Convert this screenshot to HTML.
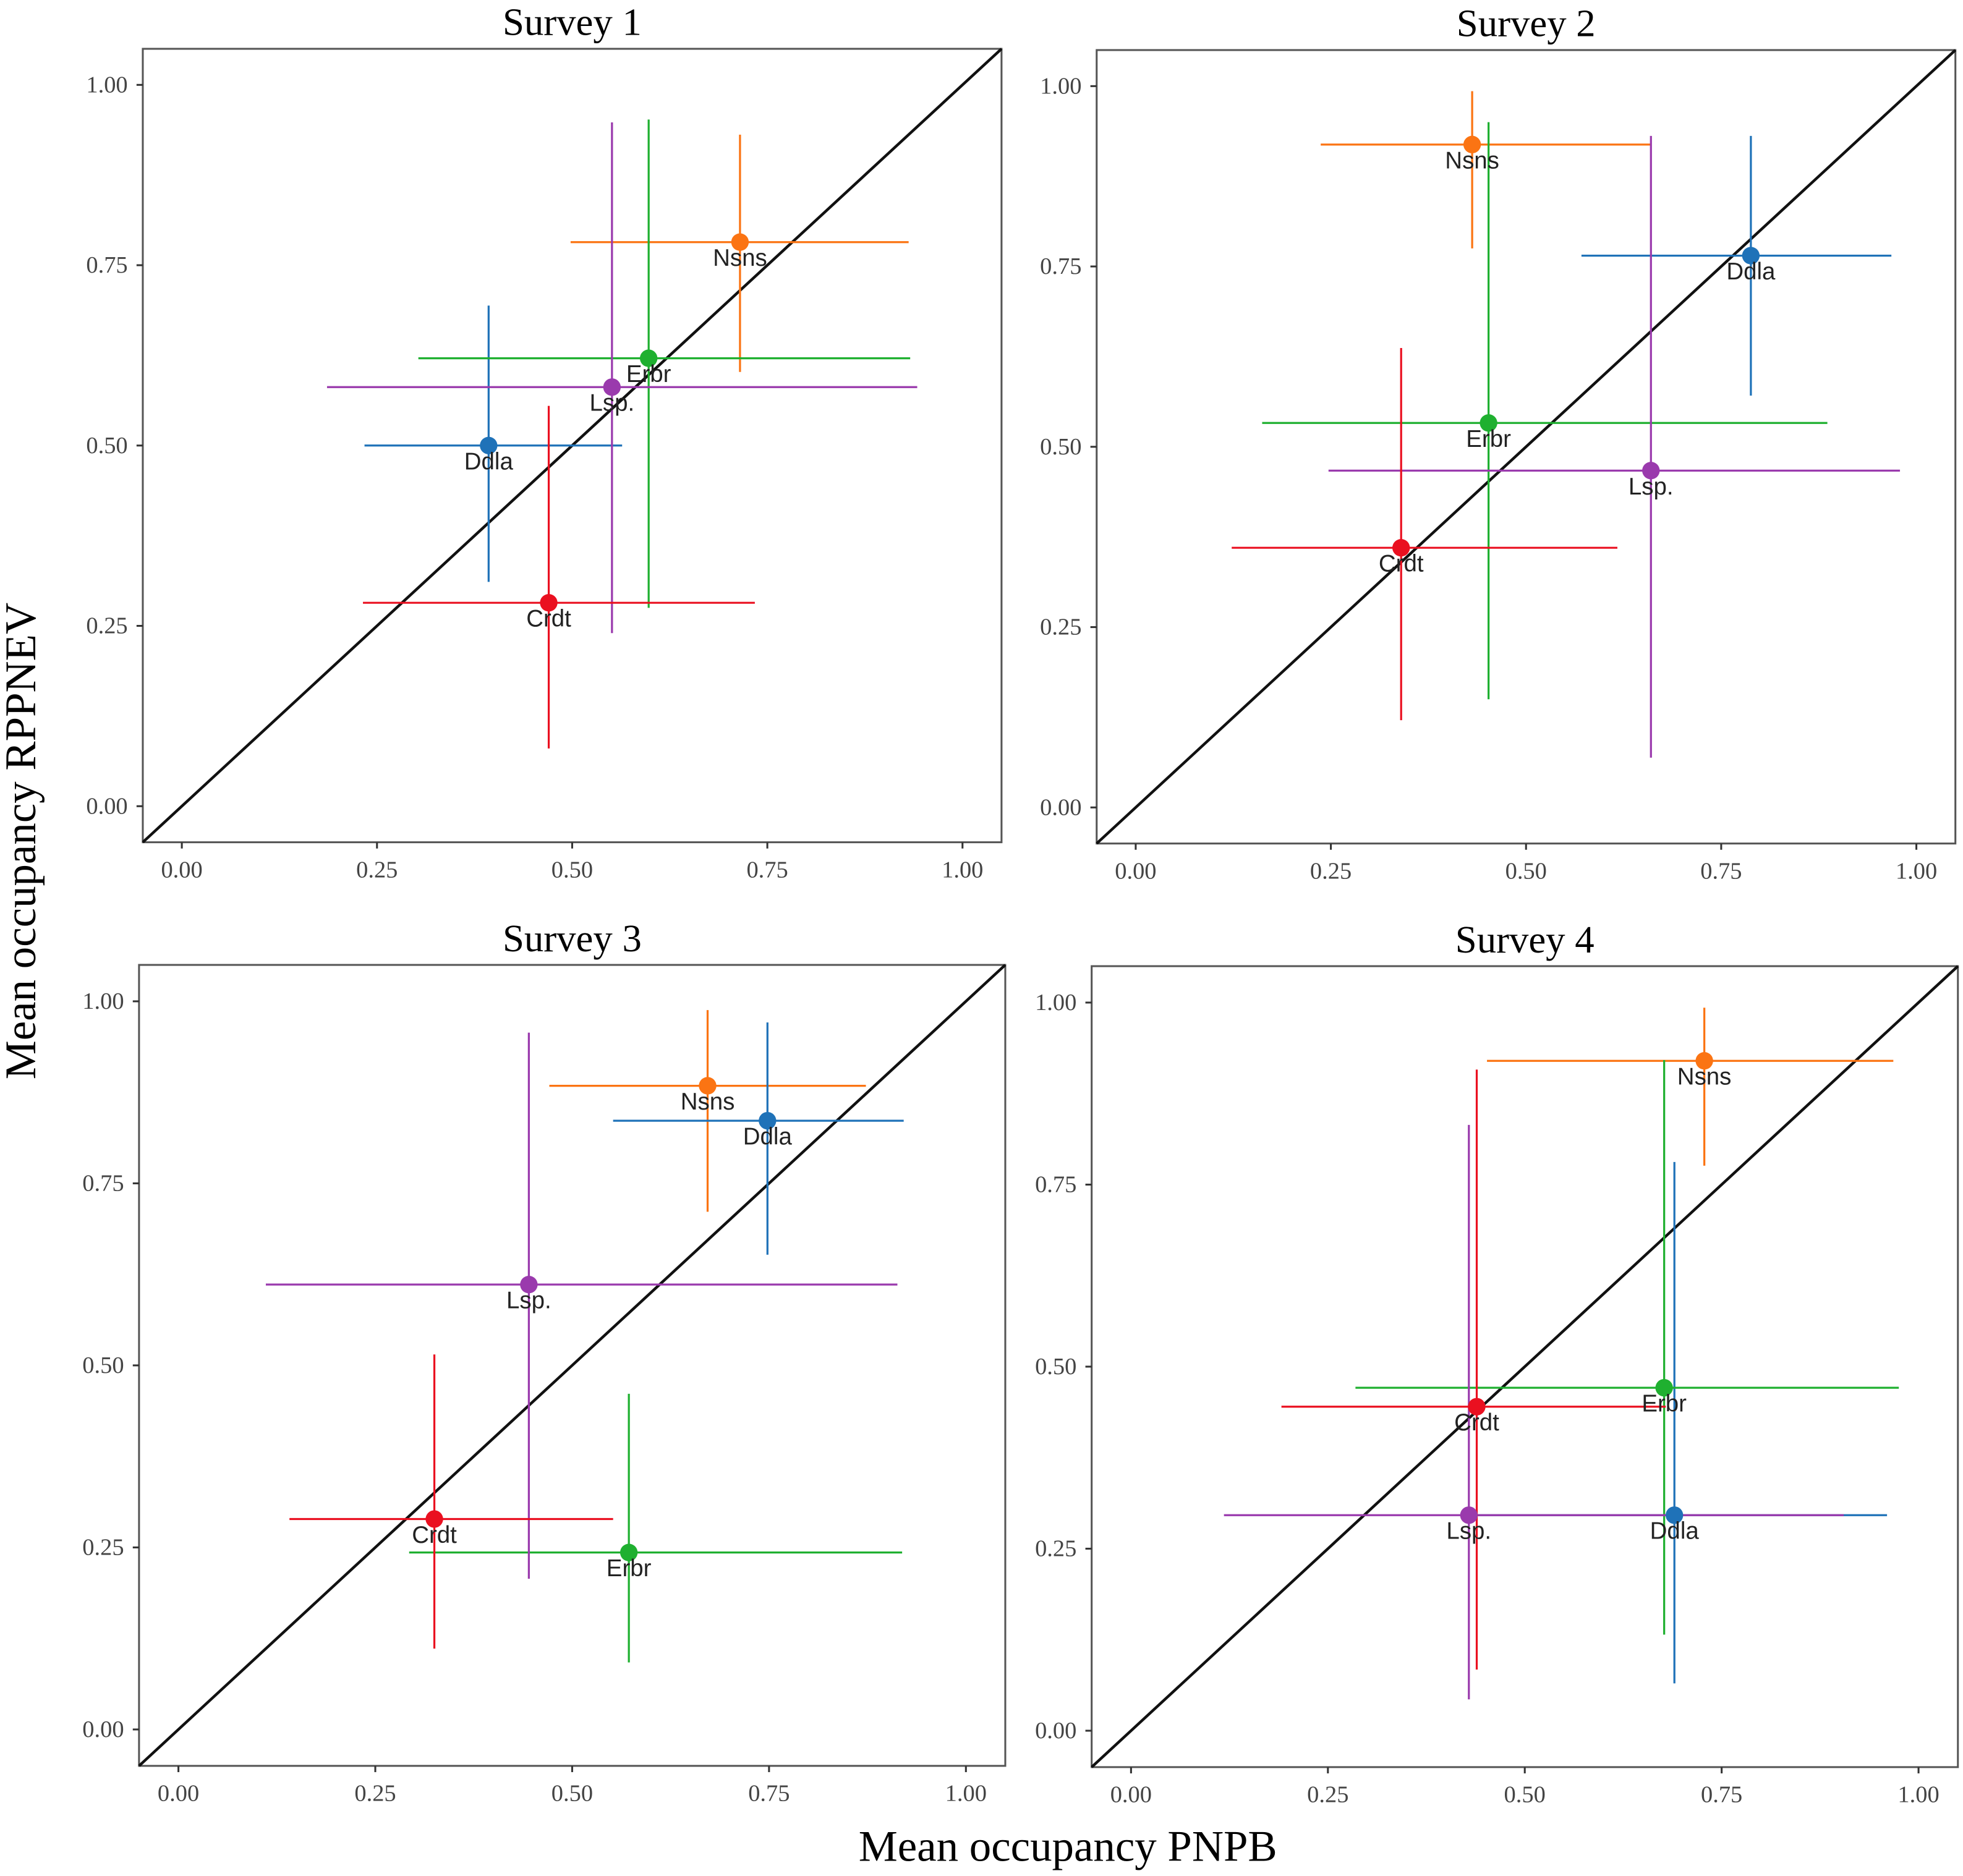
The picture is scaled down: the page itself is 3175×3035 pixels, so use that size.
<!DOCTYPE html>
<html><head><meta charset="utf-8"><style>
html,body{margin:0;padding:0;background:#fff;}
svg{display:block;}
</style></head><body>
<svg id="chart" width="3175" height="3035" viewBox="0 0 1568 1499" xmlns="http://www.w3.org/2000/svg">
<rect width="1568" height="1499" fill="#fff"/>
<text x="853" y="1487" font-family="Liberation Serif, serif" font-size="35" text-anchor="middle">Mean occupancy PNPB</text>
<text transform="translate(28,672) rotate(-90)" font-family="Liberation Serif, serif" font-size="35" text-anchor="middle">Mean occupancy RPPNEV</text>
</svg>
<script>
const species = ["Nsns","Ddla","Erbr","Lsp.","Crdt"];
const colors = ["#fb7413","#1f72b8","#1fb030","#9a3aad","#ea1020"];
const tickValues = [0,0.25,0.5,0.75,1];
const tickLabels = ["0.00","0.25","0.50","0.75","1.00"];
const surveyTitles = ["Survey 1","Survey 2","Survey 3","Survey 4"];
const s1x = [0.715,0.393,0.598,0.551,0.470];
const s1y = [0.782,0.500,0.621,0.581,0.282];
const s1xlo = [0.498,0.234,0.303,0.186,0.232];
const s1xhi = [0.931,0.564,0.933,0.942,0.734];
const s1ylo = [0.602,0.311,0.275,0.240,0.080];
const s1yhi = [0.931,0.694,0.952,0.948,0.555];
const s2x = [0.431,0.788,0.452,0.660,0.340];
const s2y = [0.919,0.765,0.533,0.467,0.360];
const s2xlo = [0.237,0.571,0.162,0.247,0.123];
const s2xhi = [0.660,0.968,0.886,0.979,0.617];
const s2ylo = [0.775,0.571,0.150,0.069,0.121];
const s2yhi = [0.993,0.931,0.950,0.931,0.637];
const s3x = [0.672,0.748,0.572,0.445,0.325];
const s3y = [0.884,0.836,0.243,0.611,0.289];
const s3xlo = [0.471,0.552,0.293,0.111,0.141];
const s3xhi = [0.873,0.921,0.919,0.913,0.552];
const s3ylo = [0.711,0.652,0.092,0.207,0.111];
const s3yhi = [0.988,0.971,0.461,0.957,0.515];
const s4x = [0.728,0.690,0.677,0.429,0.439];
const s4y = [0.920,0.296,0.471,0.296,0.445];
const s4xlo = [0.452,0.429,0.285,0.118,0.191];
const s4xhi = [0.968,0.960,0.975,0.905,0.679];
const s4ylo = [0.776,0.065,0.132,0.043,0.084];
const s4yhi = [0.993,0.781,0.921,0.832,0.908];
const surveys = [[s1x,s1y,s1xlo,s1xhi,s1ylo,s1yhi],[s2x,s2y,s2xlo,s2xhi,s2ylo,s2yhi],[s3x,s3y,s3xlo,s3xhi,s3ylo,s3yhi],[s4x,s4y,s4xlo,s4xhi,s4ylo,s4yhi]];

const panels = [
 {l:114,t:39,r:800,b:673},
 {l:876,t:40,r:1562,b:674},
 {l:111,t:771,r:803,b:1411},
 {l:872,t:772,r:1564,b:1412}
];
const NS="http://www.w3.org/2000/svg";
const svg=document.getElementById('chart');
function mk(tag,attrs,parent){const e=document.createElementNS(NS,tag);for(const k in attrs)e.setAttribute(k,attrs[k]);(parent||svg).appendChild(e);return e;}

panels.forEach((p,pi)=>{
  const g=mk('g',{});
  
  
  const w=p.r-p.l,h=p.b-p.t;
  const sx=v=>p.l+(v+0.05)/1.1*w;
  const sy=v=>p.b-(v+0.05)/1.1*h;
  const title=mk('text',{x:(p.l+p.r)/2,y:p.t-11,'font-family':'Liberation Serif, serif','font-size':'31','text-anchor':'middle'},g);
  title.textContent=surveyTitles[pi];
  
  
  const box=mk('rect',{x:p.l,y:p.t,width:w,height:h,fill:'none',stroke:'#555','stroke-width':'1.5'},g);
  
  
  tickValues.forEach((v,i)=>{
    mk('line',{x1:sx(v),x2:sx(v),y1:p.b,y2:p.b+5,stroke:'#333','stroke-width':'1.5'},g);
    const tx=mk('text',{x:sx(v),y:p.b+28,'font-family':'Liberation Serif, serif','font-size':'19',fill:'#444','text-anchor':'middle'},g);
    tx.textContent=tickLabels[i];
    
    
    mk('line',{x1:p.l-5,x2:p.l,y1:sy(v),y2:sy(v),stroke:'#333','stroke-width':'1.5'},g);
    const ty=mk('text',{x:p.l-12,y:sy(v)+6,'font-family':'Liberation Serif, serif','font-size':'19',fill:'#444','text-anchor':'end'},g);
    ty.textContent=tickLabels[i];
    
    
  });
  const diag=mk('line',{x1:sx(-0.05),y1:sy(-0.05),x2:sx(1.05),y2:sy(1.05),stroke:'#111','stroke-width':'2.2'},g);
  
  
  const d=surveys[pi];
  species.forEach((sp,i)=>{
    const c=colors[i];
    const hb=mk('line',{x1:sx(d[2][i]),x2:sx(d[3][i]),y1:sy(d[1][i]),y2:sy(d[1][i]),stroke:c,'stroke-width':'1.6'},g);
    
    
    const vb=mk('line',{x1:sx(d[0][i]),x2:sx(d[0][i]),y1:sy(d[4][i]),y2:sy(d[5][i]),stroke:c,'stroke-width':'1.6'},g);
    
    
  });
  species.forEach((sp,i)=>{
    const pt=mk('circle',{cx:sx(d[0][i]),cy:sy(d[1][i]),r:7,fill:colors[i]},g);
    
    
    const lb=mk('text',{x:sx(d[0][i]),y:sy(d[1][i])+19,'font-family':'Liberation Sans, sans-serif','font-size':'19',fill:'#222','text-anchor':'middle'},g);
    lb.textContent=sp;
    
    
  });
});
</script>
</body></html>
